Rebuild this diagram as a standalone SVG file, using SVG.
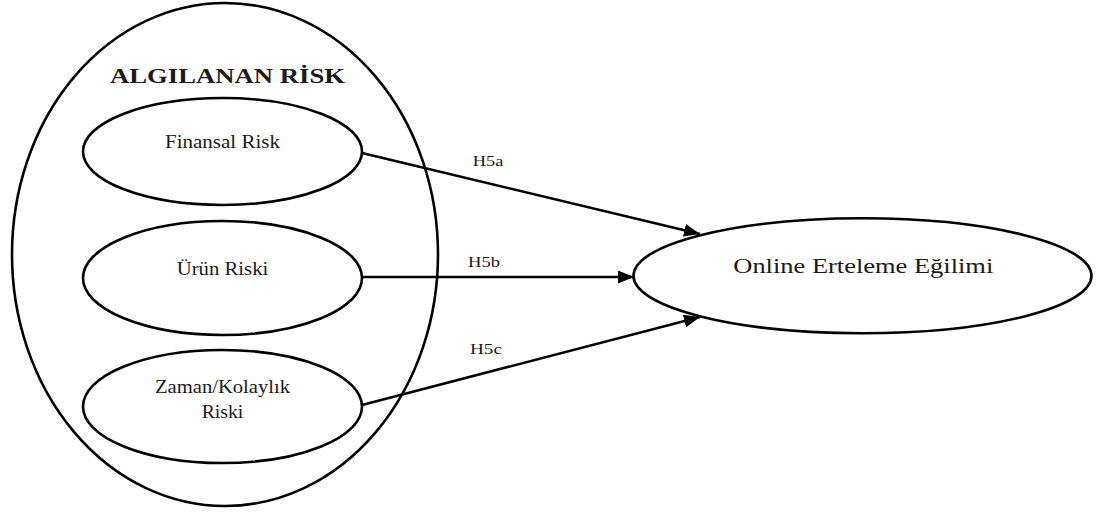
<svg xmlns="http://www.w3.org/2000/svg" width="1099" height="512" viewBox="0 0 1099 512">
<style>
.shape{fill:none;stroke:#000;stroke-width:2.6}
.fill{fill:#fff;stroke:#000;stroke-width:2.6}
.edge{fill:none;stroke:#000;stroke-width:2.6}
text{font-family:"Liberation Serif","Times New Roman",serif;fill:#1a1a1a;text-anchor:middle}
.lbl{font-size:18.5px}
.title{font-size:22px;font-weight:bold}
.h{font-size:15.5px}
</style>
<defs>
<marker id="arr" markerUnits="userSpaceOnUse" markerWidth="18" markerHeight="14" refX="16" refY="6.5" orient="auto">
<path d="M0,0 L16,6.5 L0,13 z" fill="#000"/>
</marker>
</defs>
<rect width="1099" height="512" fill="#fff"/>
<g id="algilanan-risk">
<ellipse class="shape" cx="225" cy="254.5" rx="213" ry="251.5"/>
<text class="title" x="227.5" y="83" textLength="235" lengthAdjust="spacingAndGlyphs">ALGILANAN RİSK</text>
</g>
<g id="finansal-risk">
<ellipse class="fill" cx="222.5" cy="151.5" rx="139.5" ry="53.5"/>
<text class="lbl" x="222.5" y="148.3" textLength="115" lengthAdjust="spacingAndGlyphs">Finansal Risk</text>
</g>
<g id="urun-riski">
<ellipse class="fill" cx="222.5" cy="278" rx="139.5" ry="57"/>
<text class="lbl" x="222.5" y="275" textLength="91.5" lengthAdjust="spacingAndGlyphs">Ürün Riski</text>
</g>
<g id="zaman-riski">
<ellipse class="fill" cx="222.5" cy="406.5" rx="139.5" ry="56.5"/>
<text class="lbl" x="222.5" y="393.3" textLength="135" lengthAdjust="spacingAndGlyphs">Zaman/Kolaylık</text>
<text class="lbl" x="222.5" y="418.3" textLength="41.6" lengthAdjust="spacingAndGlyphs">Riski</text>
</g>
<g id="online-erteleme">
<ellipse class="fill" cx="862.5" cy="275.8" rx="229" ry="57.5"/>
<text x="863.3" y="273.3" style="font-size:20px" textLength="260" lengthAdjust="spacingAndGlyphs">Online Erteleme Eğilimi</text>
</g>
<g id="connectors">
<line class="edge" x1="362" y1="153" x2="700" y2="234" marker-end="url(#arr)"/>
<line class="edge" x1="362" y1="277" x2="634" y2="277" marker-end="url(#arr)"/>
<line class="edge" x1="362" y1="405" x2="700" y2="317" marker-end="url(#arr)"/>
<text class="h" x="488" y="165.7" textLength="30.6" lengthAdjust="spacingAndGlyphs">H5a</text>
<text class="h" x="484" y="266.7" textLength="32" lengthAdjust="spacingAndGlyphs">H5b</text>
<text class="h" x="486" y="354" textLength="32" lengthAdjust="spacingAndGlyphs">H5c</text>
</g>
</svg>
